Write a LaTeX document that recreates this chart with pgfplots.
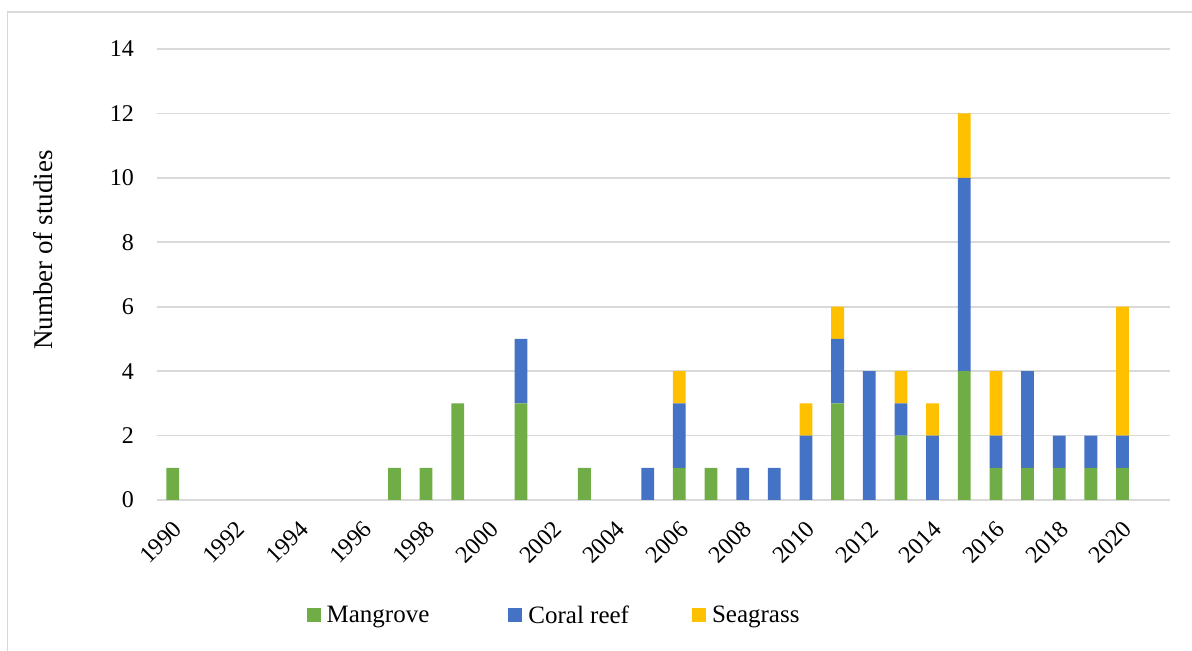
\documentclass[border=0pt]{standalone}
\usepackage{pgfplots}
\pgfplotsset{compat=1.18}
\usepackage{pgfplotstable}
\usepackage{fontspec}
\setmainfont{Liberation Serif}
\definecolor{mang}{HTML}{70AD47}
\definecolor{coral}{HTML}{4472C4}
\definecolor{seag}{HTML}{FFC000}
\definecolor{gridc}{HTML}{D9D9D9}
\pgfplotstableread{
year m c s
1990 1 0 0
1991 0 0 0
1992 0 0 0
1993 0 0 0
1994 0 0 0
1995 0 0 0
1996 0 0 0
1997 1 0 0
1998 1 0 0
1999 3 0 0
2000 0 0 0
2001 3 2 0
2002 0 0 0
2003 1 0 0
2004 0 0 0
2005 0 1 0
2006 1 2 1
2007 1 0 0
2008 0 1 0
2009 0 1 0
2010 0 2 1
2011 3 2 1
2012 0 4 0
2013 2 1 1
2014 0 2 1
2015 4 6 2
2016 1 1 2
2017 1 3 0
2018 1 1 0
2019 1 1 0
2020 1 1 4
}\data
\begin{document}
\begin{tikzpicture}
\path[use as bounding box] (0,0) rectangle (596pt,325.5pt);
\draw[color=gridc, line width=0.9pt] (3.7pt,0) -- (3.7pt,319.3pt) -- (596pt,319.3pt);
\begin{axis}[
  at={(78.5pt,75.5pt)}, anchor=south west,
  scale only axis, width=506.5pt, height=225.5pt,
  ybar stacked, bar width=6.4pt,
  xmin=1989.5, xmax=2021.5, ymin=0, ymax=14,
  ytick={0,2,...,14},
  xtick={1990,1992,...,2020},
  axis line style={draw=none}, tick style={draw=none},
  ymajorgrids, major grid style={gridc, line width=0.8pt},
  /pgf/number format/assume math mode=true,
  /pgf/number format/1000 sep={},
  tick label style={font=\fontsize{12}{14}\selectfont},
  x tick label style={yshift=-9.5pt, xshift=-0.5pt, rotate=45, anchor=north east, inner sep=0pt},
  y tick label style={xshift=-8pt},
  ylabel={Number of studies},
  ylabel style={font=\fontsize{13.5}{16}\selectfont, at={(axis description cs:-0.1125,0.554)}, anchor=center},
  legend columns=3,
  legend style={at={(axis description cs:0.392,-0.257)}, anchor=center, draw=none,
    font=\fontsize{12.5}{15}\selectfont, inner sep=0pt,
    nodes={inner sep=1pt, text depth=0.15em},
    /tikz/column 1/.style={column sep=2pt},
    /tikz/column 2/.style={column sep=38.5pt},
    /tikz/column 3/.style={column sep=2pt},
    /tikz/column 4/.style={column sep=30.5pt},
    /tikz/column 5/.style={column sep=2pt}},
]
\addplot[fill=mang, draw=none, legend image code/.code={\fill[mang] (0pt,-3.2pt) rectangle (7pt,3.8pt);}] table[x=year,y=m] {\data};
\addplot[fill=coral, draw=none, legend image code/.code={\fill[coral] (0pt,-3.2pt) rectangle (7pt,3.8pt);}] table[x=year,y=c] {\data};
\addplot[fill=seag, draw=none, legend image code/.code={\fill[seag] (0pt,-3.2pt) rectangle (7pt,3.8pt);}] table[x=year,y=s] {\data};
\legend{Mangrove, Coral reef, Seagrass}
\end{axis}
\end{tikzpicture}
\end{document}
